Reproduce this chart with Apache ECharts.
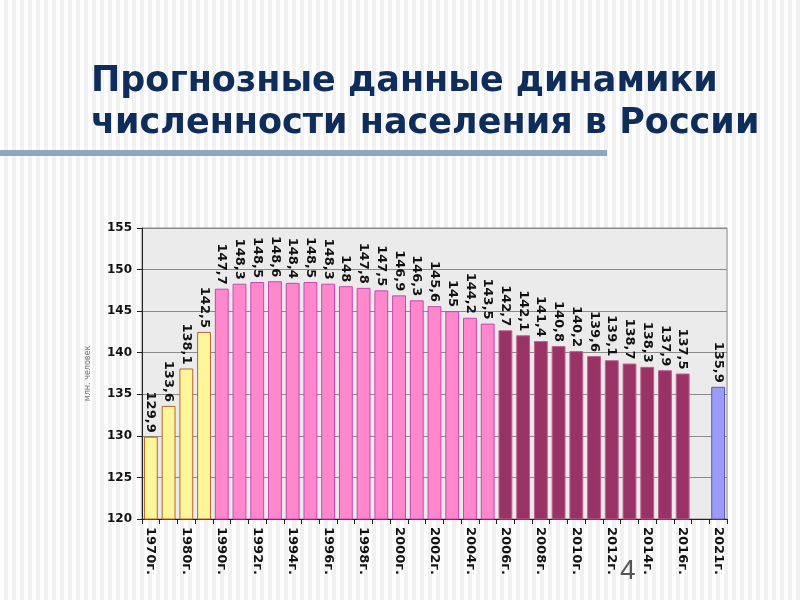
<!DOCTYPE html>
<html><head><meta charset="utf-8">
<script src="https://cdn.jsdelivr.net/npm/echarts@6/dist/echarts.min.js"></script>
<style>
html,body{margin:0;padding:0;width:800px;height:600px;overflow:hidden;
background:repeating-linear-gradient(90deg,#ffffff 0px,#ffffff 4px,#f1f1f1 4px,#f1f1f1 8px);}
#c{width:800px;height:600px;}
</style></head>
<body><div id="c"></div>
<script>
// Data
const categories = ['1970г.','1975г.','1980г.','1985г.','1990г.','1991г.','1992г.','1993г.','1994г.','1995г.','1996г.','1997г.','1998г.','1999г.','2000г.','2001г.','2002г.','2003г.','2004г.','2005г.','2006г.','2007г.','2008г.','2009г.','2010г.','2011г.','2012г.','2013г.','2014г.','2015г.','2016г.','','2021г.'];
const values = [129.9,133.6,138.1,142.5,147.7,148.3,148.5,148.6,148.4,148.5,148.3,148,147.8,147.5,146.9,146.3,145.6,145,144.2,143.5,142.7,142.1,141.4,140.8,140.2,139.6,139.1,138.7,138.3,137.9,137.5,null,135.9];
const periods = ['a','a','a','a','b','b','b','b','b','b','b','b','b','b','b','b','b','b','b','b','c','c','c','c','c','c','c','c','c','c','c','c','d'];
const yTicks = [120,125,130,135,140,145,150,155];
const titleText = 'Прогнозные данные динамики\nчисленности населения в России';
const yName = 'млн. человек';

const periodStyle = {
  a:{color:'#fff59a',borderColor:'#b5652a'},
  b:{color:'#ff88cc',borderColor:'#cc44b0'},
  c:{color:'#993366',borderColor:'#c0608f'},
  d:{color:'#9c9cf8',borderColor:'#5a5ab0'}
};

const seriesData = values.map((v,i)=>({value:v,itemStyle:Object.assign({borderWidth:1},periodStyle[periods[i]])}));

const chart = echarts.init(document.getElementById('c'),null,{renderer:'canvas'});
chart.setOption({
  backgroundColor:'transparent',
  animation:false,
  title:{text:titleText,left:86,top:56,textStyle:{fontFamily:'DejaVu Sans',fontSize:35,fontWeight:'bold',color:'#0e2d5b',lineHeight:42}},
  graphic:[
    {type:'rect',shape:{x:0,y:150,width:607,height:6},style:{fill:'#8fa6c2'}},
    {type:'text',left:620,top:557,style:{text:'4',font:'28px "Liberation Sans"',fill:'#555'}}
  ],
  grid:{left:142,right:73,top:228,bottom:81,show:true,backgroundColor:'#ebebeb',borderColor:'#8a8a8a',borderWidth:1},
  xAxis:{type:'category',data:categories,
    axisLine:{lineStyle:{color:'#222',width:1}},
    axisTick:{show:true,interval:0,length:5,lineStyle:{color:'#222'}},
    axisLabel:{interval:1,rotate:-90,fontFamily:'DejaVu Sans',fontWeight:'bold',fontSize:13,color:'#111',margin:8}
  },
  yAxis:{type:'value',min:yTicks[0],max:yTicks[yTicks.length-1],interval:5,
    name:yName,nameLocation:'middle',nameRotate:90,nameGap:50,
    nameTextStyle:{fontSize:8,color:'#777',fontFamily:'DejaVu Sans'},
    axisLine:{show:true,lineStyle:{color:'#222'}},
    axisTick:{show:true,length:5,lineStyle:{color:'#222'}},
    axisLabel:{fontFamily:'DejaVu Sans',fontWeight:'bold',fontSize:12,color:'#111',margin:10},
    splitLine:{lineStyle:{color:'#8a8a8a',width:1}}
  },
  series:[{type:'bar',data:seriesData,barCategoryGap:'22%',
    label:{show:true,position:'top',rotate:-90,align:'right',verticalAlign:'middle',distance:4,
      fontFamily:'DejaVu Sans',fontWeight:'bold',fontSize:13,color:'#111',
      formatter:p=>p.value==null?'':String(p.value).replace('.',',')}
  }]
});
</script></body></html>
